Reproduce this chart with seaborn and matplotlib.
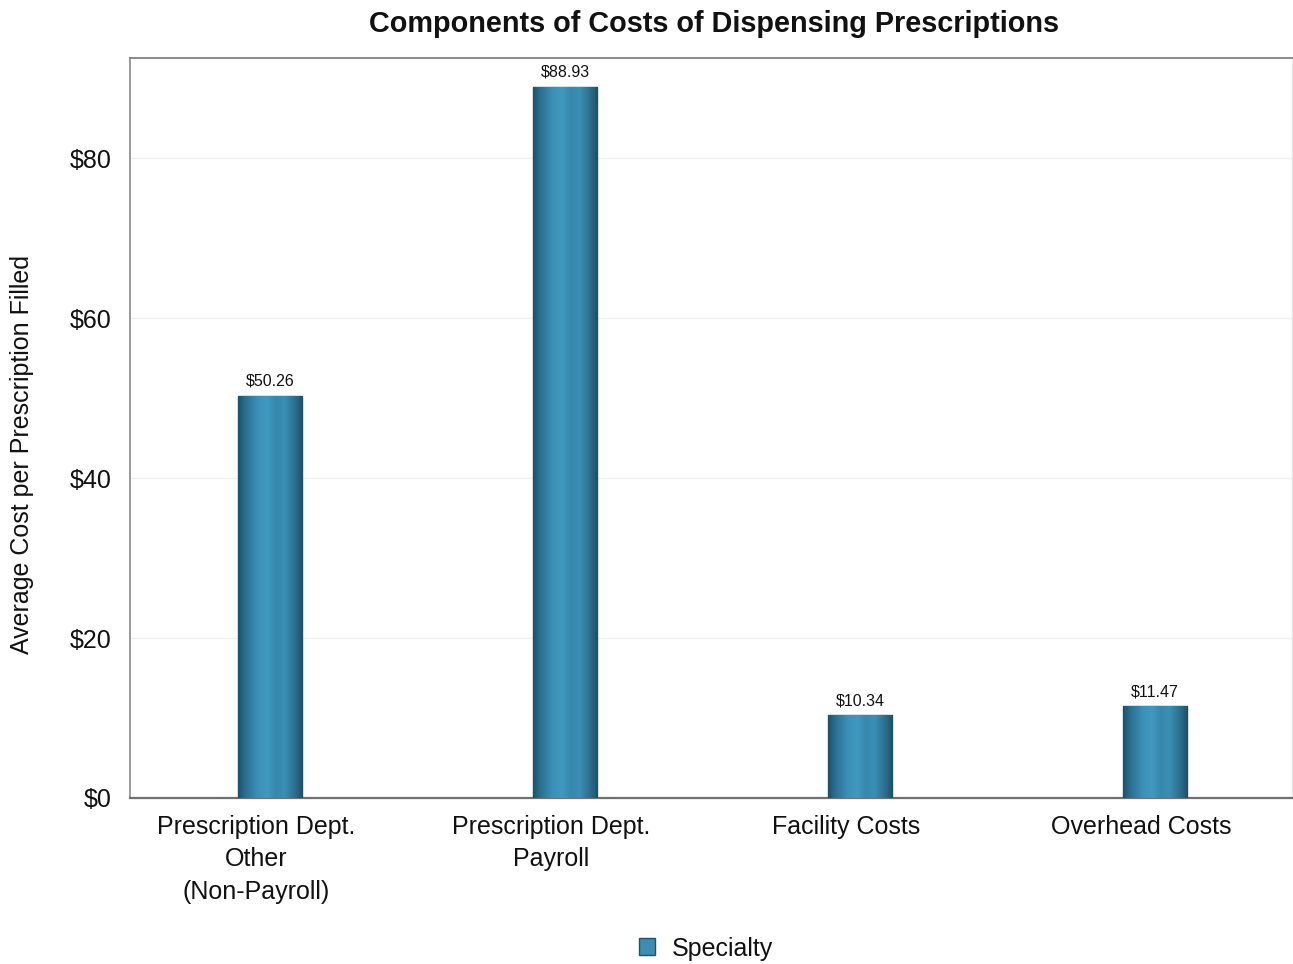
import matplotlib
matplotlib.use("Agg")
import matplotlib.pyplot as plt
import matplotlib.transforms as mtransforms
import seaborn as sns
import numpy as np
import pandas as pd
from matplotlib.colors import LinearSegmentedColormap
from matplotlib.patches import Patch

categories = ["Prescription Dept.\nOther\n(Non-Payroll)", "Prescription Dept.\nPayroll",
              "Facility Costs", "Overhead Costs"]
values = [50.26, 88.93, 10.34, 11.47]
series = "Specialty"
y_ticks = [0, 20, 40, 60, 80]
y_tick_labels = ["$0", "$20", "$40", "$60", "$80"]

sns.set_style("white")
plt.rcParams['font.family'] = ['Liberation Sans', 'DejaVu Sans']
plt.rcParams['text.color'] = '#111111'
plt.rcParams['axes.labelcolor'] = '#111111'
plt.rcParams['xtick.color'] = '#111111'
plt.rcParams['ytick.color'] = '#111111'

df = pd.DataFrame({"category": categories, "value": values, "series": series})

fig = plt.figure(figsize=(12.93, 9.64), dpi=100)
ax = fig.add_axes([0.1005, 0.1722, 0.8985, 0.7676])

sns.barplot(data=df, x="category", y="value", color="#3a8db3", width=0.218,
            edgecolor="#1f536b", linewidth=1.0, ax=ax, zorder=3)

grad = LinearSegmentedColormap.from_list("cyl", [
    (0.0, "#1d4f67"), (0.1, "#2a6d8d"), (0.3, "#3b90b7"), (0.45, "#4199c0"),
    (0.58, "#3788ad"), (0.72, "#3a8fb4"), (0.9, "#2a6a89"), (1.0, "#1d4f67")])
g = np.linspace(0, 1, 256).reshape(1, -1)
for p in ax.patches:
    x0, y0 = p.get_x(), p.get_y()
    w, h = p.get_width(), p.get_height()
    im = ax.imshow(g, cmap=grad, extent=[x0, x0 + w, y0, y0 + h], aspect="auto",
                   zorder=3.5, interpolation="bicubic")
    im.set_clip_path(p)

for p, v in zip(ax.patches, values):
    ax.text(p.get_x() + p.get_width() / 2, v + 0.9, f"${v:.2f}", ha="center", va="bottom",
            fontsize=11.5, color="#111111", zorder=5)

ax.set_xlim(-0.475, 3.464)
ax.set_ylim(0, 92.5)
ax.set_yticks(y_ticks)
ax.set_yticklabels(y_tick_labels, fontsize=18)
ax.tick_params(axis="x", labelsize=18, length=0, pad=12)
shift = mtransforms.ScaledTranslation(-0.14, 0, fig.dpi_scale_trans)
for lbl in ax.get_xticklabels():
    lbl.set_linespacing(1.45)
    lbl.set_transform(lbl.get_transform() + shift)
ax.tick_params(axis="y", length=0, pad=13.5)
ax.yaxis.grid(True, color="#f0f0f0", linewidth=1.0, zorder=0)
ax.set_axisbelow(True)
ax.set_xlabel("")
ax.set_ylabel("Average Cost per Prescription Filled", fontsize=18)
ax.yaxis.set_label_coords(-0.083, 0.464)

for side, col, lw in [("left", "#8a8a8a", 1.2), ("bottom", "#707070", 1.6),
                      ("top", "#8a8a8a", 1.4), ("right", "#e6e6e6", 1.0)]:
    ax.spines[side].set_visible(True)
    ax.spines[side].set_color(col)
    ax.spines[side].set_linewidth(lw)

fig.text(0.552, 0.975, "Components of Costs of Dispensing Prescriptions",
         ha="center", va="center", fontsize=20.8, fontweight="bold")

handle = Patch(facecolor="#3a8db3", edgecolor="#1f536b", label=series)
fig.legend(handles=[handle], loc="center", bbox_to_anchor=(0.546, 0.016), frameon=False,
           fontsize=18, handlelength=0.65, handleheight=0.65, handletextpad=0.65)

fig.savefig("out.png", dpi=100)
